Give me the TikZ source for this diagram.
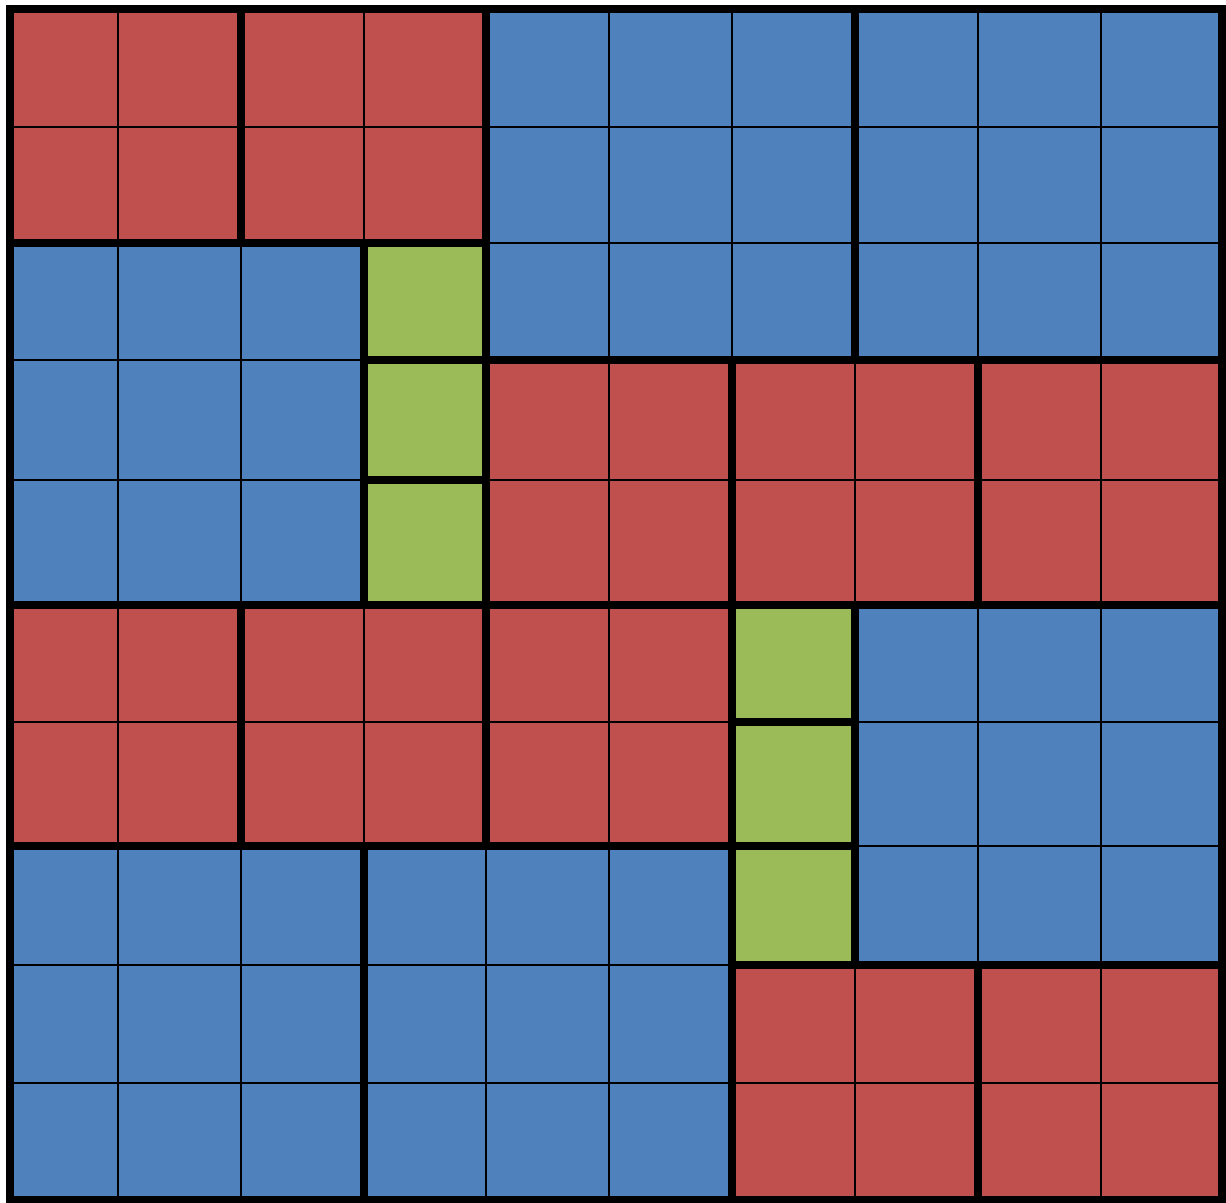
\documentclass[tikz,border=0pt]{standalone}
\usepackage{tikz}
\usepackage{xcolor}

\begin{document}
\begin{tikzpicture}[x=0.5pt,y=0.5pt,yscale=-1,xscale=1,
    redtile/.style={fill={rgb, 255:red, 192; green, 80; blue, 77 }},
    bluetile/.style={fill={rgb, 255:red, 79; green, 129; blue, 189 }},
    greentile/.style={fill={rgb, 255:red, 155; green, 187; blue, 89 }},
    thingrid/.style={color=black, line width=0.9pt},
    tileedge/.style={color=black, line width=3.8pt},
    outeredge/.style={color=black, line width=4pt}]
                        \useasboundingbox (0,0) rectangle (1226,1203);

                        %Tiles: red
                        \fill [redtile] (10,9) rectangle (486,243) ;
                        \fill [redtile] (486,360) rectangle (1222,605) ;
                        \fill [redtile] (10,605) rectangle (732,846) ;
                        \fill [redtile] (732,965) rectangle (1222,1200) ;
                        %Tiles: blue
                        \fill [bluetile] (486,9) rectangle (1222,360) ;
                        \fill [bluetile] (10,243) rectangle (364,605) ;
                        \fill [bluetile] (855,605) rectangle (1222,965) ;
                        \fill [bluetile] (10,846) rectangle (732,1200) ;
                        %Tiles: green
                        \fill [greentile] (364,243) rectangle (486,605) ;
                        \fill [greentile] (732,605) rectangle (855,965) ;

                        %Thin Lines: columns
                        \draw [thingrid] (118,9) -- (118,1200) ;
                        \draw [thingrid] (241,9) -- (241,1200) ;
                        \draw [thingrid] (364,9) -- (364,1200) ;
                        \draw [thingrid] (486,9) -- (486,1200) ;
                        \draw [thingrid] (609,9) -- (609,1200) ;
                        \draw [thingrid] (732,9) -- (732,1200) ;
                        \draw [thingrid] (855,9) -- (855,1200) ;
                        \draw [thingrid] (978,9) -- (978,1200) ;
                        \draw [thingrid] (1101,9) -- (1101,1200) ;
                        %Thin Lines: rows
                        \draw [thingrid] (10,127) -- (1222,127) ;
                        \draw [thingrid] (10,243) -- (1222,243) ;
                        \draw [thingrid] (10,360) -- (1222,360) ;
                        \draw [thingrid] (10,480) -- (1222,480) ;
                        \draw [thingrid] (10,605) -- (1222,605) ;
                        \draw [thingrid] (10,722) -- (1222,722) ;
                        \draw [thingrid] (10,846) -- (1222,846) ;
                        \draw [thingrid] (10,965) -- (1222,965) ;
                        \draw [thingrid] (10,1083) -- (1222,1083) ;

                        %Tile Borders: top rows
                        \draw [tileedge] (10,9) rectangle (241,243) ;
                        \draw [tileedge] (241,9) rectangle (486,243) ;
                        \draw [tileedge] (486,9) rectangle (855,360) ;
                        \draw [tileedge] (855,9) rectangle (1222,360) ;
                        \draw [tileedge] (10,243) rectangle (364,605) ;
                        %Tile Borders: green column left
                        \draw [tileedge] (364,243) rectangle (486,360) ;
                        \draw [tileedge] (364,360) rectangle (486,480) ;
                        \draw [tileedge] (364,480) rectangle (486,605) ;
                        %Tile Borders: middle rows
                        \draw [tileedge] (486,360) rectangle (732,605) ;
                        \draw [tileedge] (732,360) rectangle (978,605) ;
                        \draw [tileedge] (978,360) rectangle (1222,605) ;
                        \draw [tileedge] (10,605) rectangle (241,846) ;
                        \draw [tileedge] (241,605) rectangle (486,846) ;
                        \draw [tileedge] (486,605) rectangle (732,846) ;
                        %Tile Borders: green column right
                        \draw [tileedge] (732,605) rectangle (855,722) ;
                        \draw [tileedge] (732,722) rectangle (855,846) ;
                        \draw [tileedge] (732,846) rectangle (855,965) ;
                        %Tile Borders: bottom rows
                        \draw [tileedge] (855,605) rectangle (1222,965) ;
                        \draw [tileedge] (10,846) rectangle (364,1200) ;
                        \draw [tileedge] (364,846) rectangle (732,1200) ;
                        \draw [tileedge] (732,965) rectangle (978,1200) ;
                        \draw [tileedge] (978,965) rectangle (1222,1200) ;

                        %Outer Frame
                        \draw [outeredge] (10,9) rectangle (1222,1200) ;
                    \end{tikzpicture}
\end{document}
